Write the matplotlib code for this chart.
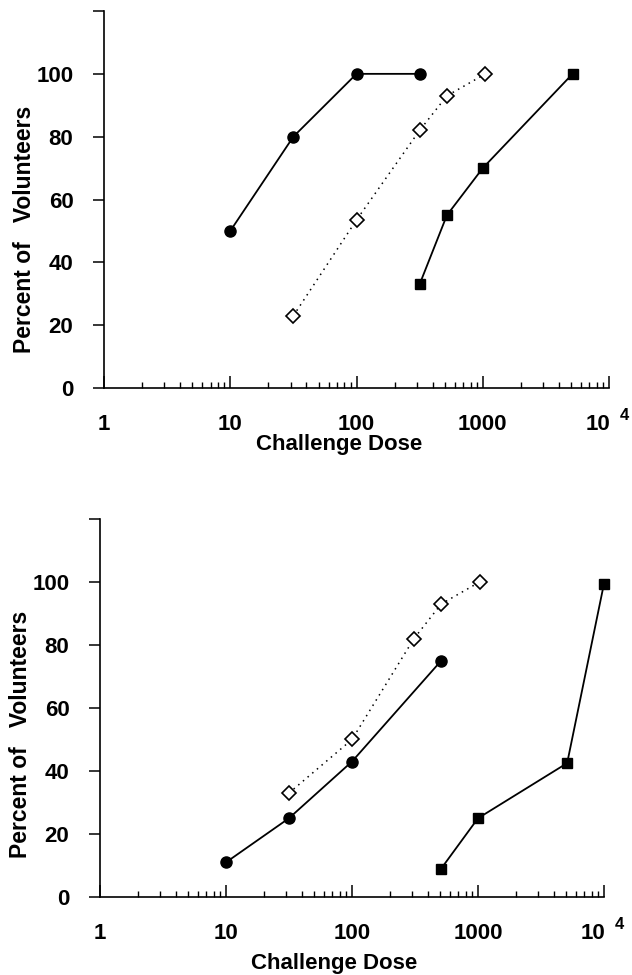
import matplotlib
matplotlib.use("Agg")
import matplotlib.pyplot as plt
from matplotlib.transforms import ScaledTranslation

plt.rcParams['font.family'] = ['Liberation Sans', 'DejaVu Sans']
plt.rcParams['font.weight'] = 'bold'

# ---- data ----
# top panel
top_circle_dose = [10, 31.6, 100, 316]
top_circle_pct = [50, 80, 100, 100]
top_diamond_dose = [31.6, 100, 316, 520, 1050]
top_diamond_pct = [23, 53.5, 82, 93, 100]
top_square_dose = [316, 520, 1000, 5150]
top_square_pct = [33, 55, 70, 100]

# bottom panel
bot_circle_dose = [10, 31.6, 100, 510]
bot_circle_pct = [11, 25, 43, 75]
bot_diamond_dose = [31.6, 100, 310, 510, 1030]
bot_diamond_pct = [33, 50, 82, 93, 100]
bot_square_dose = [510, 1000, 5100, 10000]
bot_square_pct = [9, 25, 42.5, 99.5]

x_ticks = [1, 10, 100, 1000, 10000]
x_ticklabels = ['1', '10', '100', '1000', '10']
y_ticks = [0, 20, 40, 60, 80, 100, 120]
y_ticklabels = ['0', '20', '40', '60', '80', '100', '']

ylabel_text = 'Percent of   Volunteers'
xlabel_text = 'Challenge Dose'

fig = plt.figure(figsize=(6.32, 9.75), dpi=100)

axes_specs = [
    ([0.1646, 0.602, 0.799, 0.3867],
     (top_circle_dose, top_circle_pct), (top_diamond_dose, top_diamond_pct),
     (top_square_dose, top_square_pct), 0.42, -0.149),
    ([0.1582, 0.080, 0.7975, 0.3877],
     (bot_circle_dose, bot_circle_pct), (bot_diamond_dose, bot_diamond_pct),
     (bot_square_dose, bot_square_pct), 0.43, -0.175),
]

for rect, circ, diam, sq, ylab_y, xlab_y in axes_specs:
    ax = fig.add_axes(rect)
    ax.plot(circ[0], circ[1], '-', color='black', lw=1.3, marker='o',
            ms=8, mfc='black', mec='black', zorder=3, clip_on=False)
    ax.plot(diam[0], diam[1], linestyle=(0, (1, 3)), color='black', lw=1.1,
            marker='D', ms=7.5, mfc='white', mec='black', mew=1.2, zorder=3,
            clip_on=False)
    ax.plot(sq[0], sq[1], '-', color='black', lw=1.3, marker='s',
            ms=7, mfc='black', mec='black', zorder=3, clip_on=False)

    ax.set_xscale('log')
    ax.set_xlim(1, 10000)
    ax.set_ylim(0, 120)
    ax.spines['top'].set_visible(False)
    ax.spines['right'].set_visible(False)
    ax.spines['left'].set_linewidth(1.2)
    ax.spines['bottom'].set_linewidth(1.2)

    ax.set_xticks(x_ticks)
    ax.set_xticklabels(x_ticklabels, fontsize=16, fontweight='bold')
    ax.set_yticks(y_ticks)
    ax.set_yticklabels(y_ticklabels, fontsize=16, fontweight='bold')

    ax.tick_params(axis='x', which='major', direction='in', length=9,
                   width=1.1, pad=19)
    ax.tick_params(axis='x', which='minor', direction='in', length=4,
                   width=1.0)
    ax.tick_params(axis='y', which='major', direction='out', length=8,
                   width=1.1, pad=14)

    # shift the last "10" label left so that "10 4" is centred on the tick
    last = ax.get_xticklabels()[-1]
    last.set_transform(last.get_transform() +
                       ScaledTranslation(-8 / 72, 0, fig.dpi_scale_trans))
    ax.annotate('4', xy=(10000, 0), xycoords=('data', 'axes fraction'),
                xytext=(11, -20), textcoords='offset points',
                fontsize=12, fontweight='bold', ha='center', va='center',
                annotation_clip=False)

    ax.text(-0.158, ylab_y, ylabel_text, transform=ax.transAxes,
            rotation=90, fontsize=16.5, fontweight='bold',
            ha='center', va='center')
    ax.text(0.465, xlab_y, xlabel_text, transform=ax.transAxes,
            fontsize=16, fontweight='bold', ha='center', va='center')

fig.savefig('out.png', dpi=100)
